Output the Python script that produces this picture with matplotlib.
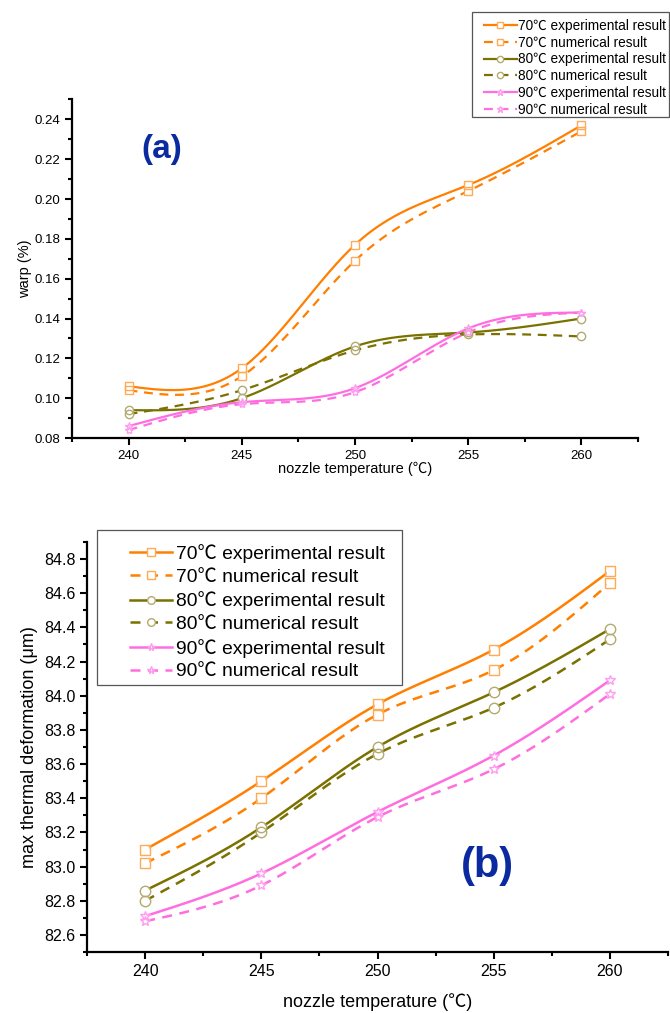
import numpy as np
import matplotlib
matplotlib.use("Agg")
import matplotlib.pyplot as plt
from matplotlib.patches import Rectangle
from matplotlib.lines import Line2D
from matplotlib.ticker import MultipleLocator, FormatStrFormatter

plt.rcParams['font.family'] = ['Liberation Sans', 'Noto Sans CJK SC', 'DejaVu Sans']

temps = [240, 245, 250, 255, 260]

# (a) warp, %
warp_70_exp = [0.106, 0.115, 0.177, 0.207, 0.237]
warp_70_num = [0.104, 0.111, 0.169, 0.204, 0.234]
warp_80_exp = [0.094, 0.100, 0.126, 0.133, 0.140]
warp_80_num = [0.092, 0.104, 0.124, 0.132, 0.131]
warp_90_exp = [0.086, 0.098, 0.105, 0.135, 0.143]
warp_90_num = [0.084, 0.097, 0.103, 0.133, 0.143]

# (b) max thermal deformation, um
defo_70_exp = [83.10, 83.50, 83.95, 84.27, 84.73]
defo_70_num = [83.02, 83.40, 83.89, 84.15, 84.66]
defo_80_exp = [82.86, 83.23, 83.70, 84.02, 84.39]
defo_80_num = [82.80, 83.20, 83.66, 83.93, 84.33]
defo_90_exp = [82.71, 82.96, 83.32, 83.65, 84.09]
defo_90_num = [82.68, 82.89, 83.29, 83.57, 84.01]

labels = ['70℃ experimental result', '70℃ numerical result',
          '80℃ experimental result', '80℃ numerical result',
          '90℃ experimental result', '90℃ numerical result']

line_colors = ['#ff7f00', '#ff7f00', '#7a7100', '#7a7100', '#ff6ee0', '#ff6ee0']
mark_colors = ['#ffaa55', '#ffaa55', '#b3aa70', '#b3aa70', '#ff9cf0', '#ff9cf0']
markers = ['s', 's', 'o', 'o', '*', '*']
styles = ['-', (0, (4, 3)), '-', (0, (4, 3)), '-', (0, (4, 3))]


def natural_spline(x, y, n=200):
    x = np.asarray(x, float)
    y = np.asarray(y, float)
    m = len(x)
    h = np.diff(x)
    A = np.zeros((m, m))
    r = np.zeros(m)
    A[0, 0] = A[-1, -1] = 1
    for i in range(1, m - 1):
        A[i, i - 1] = h[i - 1]
        A[i, i] = 2 * (h[i - 1] + h[i])
        A[i, i + 1] = h[i]
        r[i] = 6 * ((y[i + 1] - y[i]) / h[i] - (y[i] - y[i - 1]) / h[i - 1])
    M = np.linalg.solve(A, r)
    xs = np.linspace(x[0], x[-1], n)
    k = np.clip(np.searchsorted(x, xs) - 1, 0, m - 2)
    t0 = x[k + 1] - xs
    t1 = xs - x[k]
    hk = h[k]
    ys = (M[k] * t0 ** 3 + M[k + 1] * t1 ** 3) / (6 * hk) \
        + (y[k] / hk - M[k] * hk / 6) * t0 + (y[k + 1] / hk - M[k + 1] * hk / 6) * t1
    return xs, ys


def draw_panel(ax, series, ms, lw):
    for i, vals in enumerate(series):
        xs, ys = natural_spline(temps, vals)
        ax.plot(xs, ys, color=line_colors[i], ls=styles[i], lw=lw, zorder=2)
    # white cores keep the curves out of the hollow symbols
    for i, vals in enumerate(series):
        ax.plot(temps, vals, ls='none', marker=markers[i], ms=ms * 0.85,
                mfc='white', mec='none', zorder=3)
    for i, vals in enumerate(series):
        ax.plot(temps, vals, ls='none', marker=markers[i], ms=ms,
                mfc='none', mec=mark_colors[i], mew=1.0, zorder=4)
    for side in ['top', 'right']:
        ax.spines[side].set_visible(False)
    for side in ['left', 'bottom']:
        ax.spines[side].set_linewidth(1.6)
    ax.set_xlim(237.5, 262.5)
    ax.set_xticks(temps)
    ax.xaxis.set_minor_locator(MultipleLocator(2.5))
    ax.tick_params(which='major', direction='out', length=5, width=1.5)
    ax.tick_params(which='minor', direction='out', length=3, width=1.5)


def legend_handles(ms, lw):
    hs = []
    for i in range(6):
        hs.append(Line2D([], [], color=line_colors[i], ls=styles[i], lw=lw,
                         marker=markers[i], ms=ms, mfc='white',
                         mec=mark_colors[i], mew=1.0))
    return hs


fig = plt.figure(figsize=(6.7, 10.13), dpi=100)

# ---- (a) ----
ax1 = fig.add_axes([0.1075, 0.5676, 0.8445, 0.3342])
draw_panel(ax1, [warp_70_exp, warp_70_num, warp_80_exp, warp_80_num,
                 warp_90_exp, warp_90_num], ms=6, lw=1.6)
ax1.set_ylim(0.08, 0.25)
ax1.yaxis.set_major_locator(MultipleLocator(0.02))
ax1.yaxis.set_minor_locator(MultipleLocator(0.01))
ax1.yaxis.set_major_formatter(FormatStrFormatter('%.2f'))
ax1.tick_params(labelsize=9.5)
ax1.set_xlabel('nozzle temperature (℃)', fontsize=10.5, labelpad=0)
ax1.set_ylabel('warp (%)', fontsize=10.5, labelpad=2)
ax1.text(0.122, 0.897, '(a)', transform=ax1.transAxes, fontsize=24,
         fontweight='bold', color='#0c2aa0', ha='left', va='top')

fig.add_artist(Rectangle((472 / 670, 1 - 117 / 1013), 197 / 670, 105 / 1013,
                         transform=fig.transFigure, fill=False,
                         edgecolor='#555555', lw=0.9))
fig.legend(handles=legend_handles(4.5, 1.6), labels=labels, loc='upper left',
           bbox_to_anchor=(484 / 670, 1 - 19 / 1013), frameon=False,
           fontsize=9.8, handlelength=2.4, handletextpad=0.1,
           labelspacing=0.2, borderpad=0, borderaxespad=0)

# ---- (b) ----
ax2 = fig.add_axes([0.130, 0.0602, 0.867, 0.4048])
draw_panel(ax2, [defo_70_exp, defo_70_num, defo_80_exp, defo_80_num,
                 defo_90_exp, defo_90_num], ms=7.5, lw=1.8)
ax2.set_ylim(82.5, 84.9)
ax2.yaxis.set_major_locator(MultipleLocator(0.2))
ax2.yaxis.set_minor_locator(MultipleLocator(0.1))
ax2.yaxis.set_major_formatter(FormatStrFormatter('%.1f'))
ax2.tick_params(labelsize=11.5)
ax2.set_xlabel('nozzle temperature (℃)', fontsize=13, labelpad=10)
ax2.set_ylabel('max thermal deformation (μm)', fontsize=13, labelpad=4)
ax2.text(0.643, 0.258, '(b)', transform=ax2.transAxes, fontsize=30,
         fontweight='bold', color='#0c2aa0', ha='left', va='top')

fig.add_artist(Rectangle((97 / 670, 1 - 685 / 1013), 305 / 670, 155 / 1013,
                         transform=fig.transFigure, fill=False,
                         edgecolor='#555555', lw=0.9))
fig.legend(handles=legend_handles(5.5, 1.8), labels=labels, loc='upper left',
           bbox_to_anchor=(130 / 670, 1 - 544 / 1013), frameon=False,
           fontsize=13.9, handlelength=2.2, handletextpad=0.2,
           labelspacing=0.28, borderpad=0, borderaxespad=0)

fig.savefig('out.png', dpi=100)
